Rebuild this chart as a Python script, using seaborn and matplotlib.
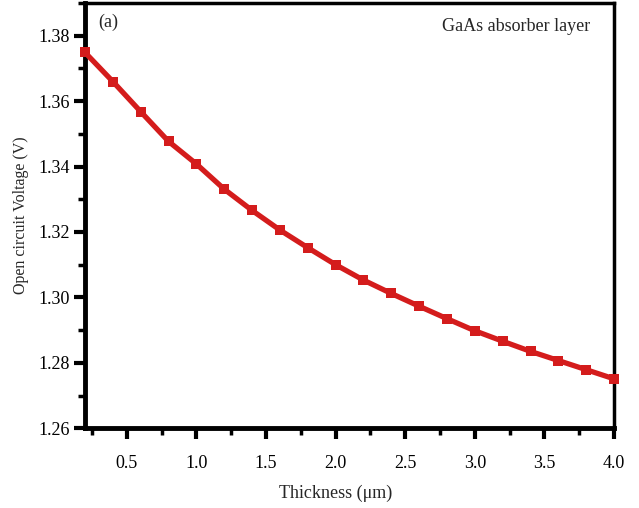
import matplotlib
matplotlib.use("Agg")
import matplotlib.pyplot as plt
import seaborn as sns
import pandas as pd
from matplotlib.ticker import MultipleLocator

thickness = [0.2, 0.4, 0.6, 0.8, 1.0, 1.2, 1.4, 1.6, 1.8, 2.0,
             2.2, 2.4, 2.6, 2.8, 3.0, 3.2, 3.4, 3.6, 3.8, 4.0]
voc = [1.3749, 1.3660, 1.3568, 1.3477, 1.3408, 1.3331, 1.3266, 1.3206, 1.3152, 1.3100,
       1.3053, 1.3012, 1.2973, 1.2935, 1.2898, 1.2866, 1.2835, 1.2807, 1.2779, 1.2751]

df = pd.DataFrame({"Thickness": thickness, "Voc": voc})

sns.set_theme(style="ticks")
plt.rcParams['font.family'] = ['Liberation Serif', 'DejaVu Serif']

fig = plt.figure(figsize=(6.39, 5.08), dpi=100)
ax = fig.add_axes([0.133, 0.157, 0.828, 0.837])

sns.lineplot(data=df, x="Thickness", y="Voc", ax=ax, color="#d41c1c",
             linewidth=3.8, marker="s", markersize=6.5, markeredgewidth=0,
             clip_on=False, zorder=3)

ax.set_xlim(0.2, 4.0)
ax.set_ylim(1.26, 1.39)
ax.xaxis.set_minor_locator(MultipleLocator(0.25))
ax.yaxis.set_minor_locator(MultipleLocator(0.01))
ax.set_xticks([0.5, 1.0, 1.5, 2.0, 2.5, 3.0, 3.5, 4.0])
ax.set_yticks([1.26, 1.28, 1.30, 1.32, 1.34, 1.36, 1.38])
ax.set_yticklabels(["1.26", "1.28", "1.30", "1.32", "1.34", "1.36", "1.38"])

for s in ["left", "bottom"]:
    ax.spines[s].set_linewidth(3.5)
    ax.spines[s].set_color("black")
for s in ["top", "right"]:
    ax.spines[s].set_linewidth(2.5)
    ax.spines[s].set_color("black")

ax.tick_params(which="major", direction="out", length=8, width=3, labelsize=13,
               colors="black")
ax.tick_params(which="minor", direction="out", length=5, width=2.5, colors="black")
ax.tick_params(axis="x", which="major", pad=11)
ax.tick_params(axis="y", which="major", pad=3)

ax.set_xlabel("Thickness (μm)", fontsize=13)
ax.set_ylabel("Open circuit Voltage (V)", fontsize=11.5)
ax.xaxis.set_label_coords(0.473, -0.132)
ax.yaxis.set_label_coords(-0.105, 0.5)

ax.text(0.025, 0.975, "(a)", transform=ax.transAxes, fontsize=13, va="top", ha="left")
ax.text(0.955, 0.965, "GaAs absorber layer", transform=ax.transAxes, fontsize=13,
        va="top", ha="right")

fig.savefig("out.png", dpi=100)
